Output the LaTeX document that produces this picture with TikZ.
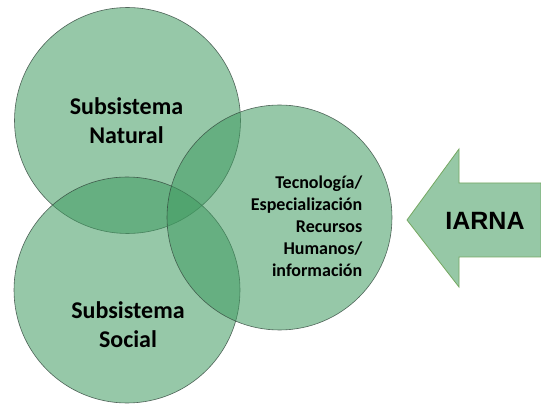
\documentclass[tikz,border=0pt]{standalone}
\usepackage{fontspec}
\setmainfont{Carlito}
\newfontfamily\arialfont{Liberation Sans}
\begin{document}
\begin{tikzpicture}[x=1pt,y=-1pt,
  sub/.style={circle, minimum size=226pt, inner sep=0pt, fill=circfill, fill opacity=0.55, draw=circline, line width=0.6pt, draw opacity=0.8},
  bigtext/.style={font=\fontsize{24}{29}\selectfont\bfseries, align=center, text=black},
  smalltext/.style={font=\fontsize{18}{22}\selectfont\bfseries, align=right, text=black, inner sep=0pt},
]
\definecolor{circfill}{RGB}{64,155,97}
\definecolor{circline}{RGB}{50,70,60}
\definecolor{arrowfill}{RGB}{150,200,166}
\definecolor{arrowline}{RGB}{118,168,98}
\useasboundingbox (0,0) rectangle (541,406);
\fill[white] (0,0) rectangle (541,406);
\node[sub] (nat) at (127.5,120.5) {};
\node[sub] (soc) at (127,290) {};
\node[sub, minimum size=225pt] (tec) at (279.5,217.5) {};
\node[bigtext] (natt) at (126.5,121) {Subsistema\\Natural};
\node[bigtext] (soct) at (128,325) {Subsistema\\Social};
\node[smalltext, anchor=east] (tect) at (362.5,226) {Tecnología/\\Especialización\\Recursos\hspace{4pt}\\Humanos/\\información};
\draw[fill=arrowfill, draw=arrowline, line width=0.8pt]
  (407,220) -- (459,149) -- (459,183) -- (541,183) -- (541,257) -- (459,257) -- (459,287) -- cycle;
\node[font=\arialfont\fontsize{25}{30}\selectfont\bfseries, text=black] (iarna) at (485,221) {IARNA};
\end{tikzpicture}
\end{document}
